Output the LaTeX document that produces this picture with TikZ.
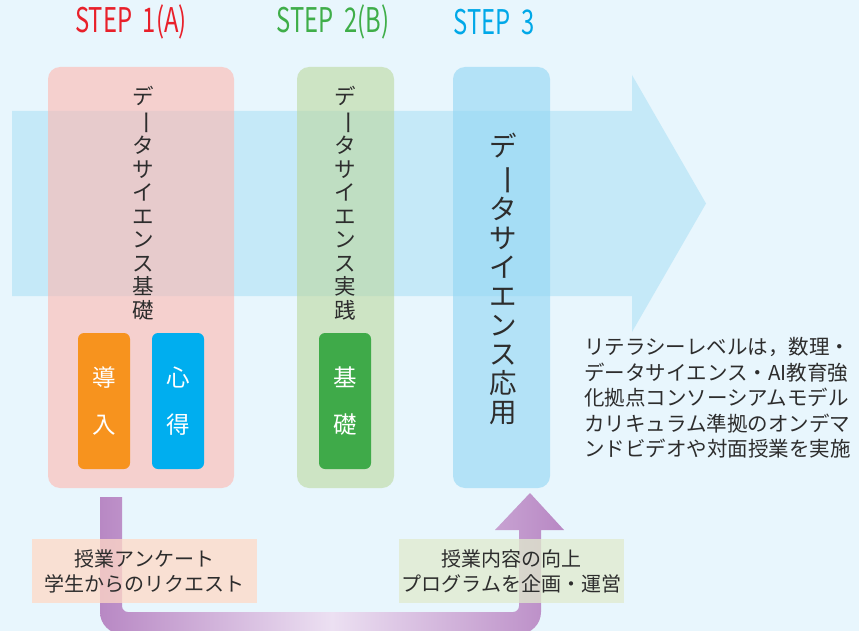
\documentclass[tikz,border=0pt]{standalone}
\usepackage{fontspec}
\newfontfamily\jpfont{Noto Sans CJK JP}
\usetikzlibrary{positioning}

\definecolor{bgblue}{RGB}{232,246,253}
\definecolor{arrowblue}{RGB}{197,233,248}
\definecolor{pinkbox}{RGB}{255,183,176}
\definecolor{greenbox}{RGB}{187,216,158}
\definecolor{bluebox}{RGB}{144,213,243}
\definecolor{stepred}{RGB}{232,32,42}
\definecolor{stepgreen}{RGB}{63,174,73}
\definecolor{stepblue}{RGB}{0,168,232}
\definecolor{innerorange}{RGB}{247,147,30}
\definecolor{innerblue}{RGB}{0,174,239}
\definecolor{innergreen}{RGB}{63,170,73}
\definecolor{loopdark}{RGB}{184,136,196}
\definecolor{looplight}{RGB}{236,224,242}
\definecolor{labelpeach}{RGB}{255,217,198}
\definecolor{labelgreen}{RGB}{225,235,205}
\definecolor{textgray}{RGB}{45,45,45}

\newcommand\vbar{\rotatebox[origin=c]{-90}{\scalebox{1.15}[1]{ー}}}

\begin{document}
\begin{tikzpicture}[
  x=1pt, y=-1pt,
  font=\jpfont,
  steplabel/.style={font=\jpfont\fontsize{34}{36}\selectfont, inner sep=0},
  stepbox/.style={rounded corners=12pt, fill opacity=0.6, minimum width=97pt, minimum height=421pt, inner sep=0},
  vtext/.style={align=center, inner sep=0, text=textgray, font=\jpfont\fontsize{21.5}{23.5}\selectfont},
  vtextbig/.style={align=center, inner sep=0, text=textgray, font=\jpfont\fontsize{27.5}{29}\selectfont},
  innerbox/.style={rounded corners=6pt, minimum width=52pt, minimum height=136pt, inner sep=0, text=white, align=center, font=\jpfont\fontsize{23.5}{47}\selectfont},
  labelbox/.style={fill opacity=0.75, text opacity=1, minimum width=225pt, minimum height=64pt, inner sep=0, align=center, text=textgray, font=\jpfont\fontsize{20}{25}\selectfont}
]
\useasboundingbox (0,0) rectangle (859,631);
\clip (0,0) rectangle (859,631);
\fill[bgblue] (0,0) rectangle (859,631);

% STEP headers
\node[steplabel, text=stepred] (step1) at (131,22) {\scalebox{0.7}[1]{STEP\ \ 1(A)}};
\node[steplabel, text=stepgreen] (step2) at (333,22) {\scalebox{0.7}[1]{STEP\ \ 2(B)}};
\node[steplabel, text=stepblue] (step3) at (494,22) {\scalebox{0.7}[1]{STEP\ \ 3}};

% big arrow
\fill[arrowblue] (12,111) -- (632,111) -- (632,75) -- (706,203.5) -- (632,332) -- (632,296) -- (12,296) -- cycle;

% step boxes
\node[stepbox, fill=pinkbox, minimum width=186pt] (basic) at (141,277.5) {};
\node[stepbox, fill=greenbox] (practice) at (345.5,277.5) {};
\node[stepbox, fill=bluebox] (applied) at (501.5,277.5) {};

% vertical titles
\node[vtext] (basictitle) at (143,203) {デ\\\vbar\\タ\\サ\\イ\\エ\\ン\\ス\\基\\礎};
\node[vtext] (practicetitle) at (345,203) {デ\\\vbar\\タ\\サ\\イ\\エ\\ン\\ス\\実\\践};
\node[vtextbig] (appliedtitle) at (503,279) {デ\\\vbar\\タ\\サ\\イ\\エ\\ン\\ス\\応\\用};

% inner boxes
\node[innerbox, fill=innerorange] (intro) at (104,401) {導\\入};
\node[innerbox, fill=innerblue] (mind) at (178,401) {心\\得};
\node[innerbox, fill=innergreen] (base) at (345,401) {基\\礎};

% literacy note
\node[anchor=west, align=left, inner sep=0, text=textgray, font=\jpfont\fontsize{20.5}{25.5}\selectfont] (note) at (584,398)
  {リテラシーレベルは，数理・\\データサイエンス・AI教育強\\化拠点コンソーシアムモデル\\カリキュラム準拠のオンデマ\\ンドビデオや対面授業を実施};

% feedback loop
\coordinate (loopstart) at (100,497);
\coordinate (looptip) at (530,493);
\shade[left color=loopdark, right color=loopdark, middle color=looplight]
  (loopstart) -- (100,560) [rounded corners=22pt] -- (100,634) -- (541,634) -- (541,580) [sharp corners]
  -- (541,530) -- (564,530) -- (looptip) -- (495,530) -- (519,530)
  -- (519,580) [rounded corners=6pt] -- (519,612) -- (122,612) -- (122,580) [sharp corners]
  -- (122,497) -- cycle;

% labels
\node[labelbox, fill=labelpeach] (survey) at (144.5,571) {授業アンケート\\学生からのリクエスト};
\node[labelbox, fill=labelgreen] (improve) at (511.5,571) {授業内容の向上\\プログラムを企画・運営};

\end{tikzpicture}
\end{document}
